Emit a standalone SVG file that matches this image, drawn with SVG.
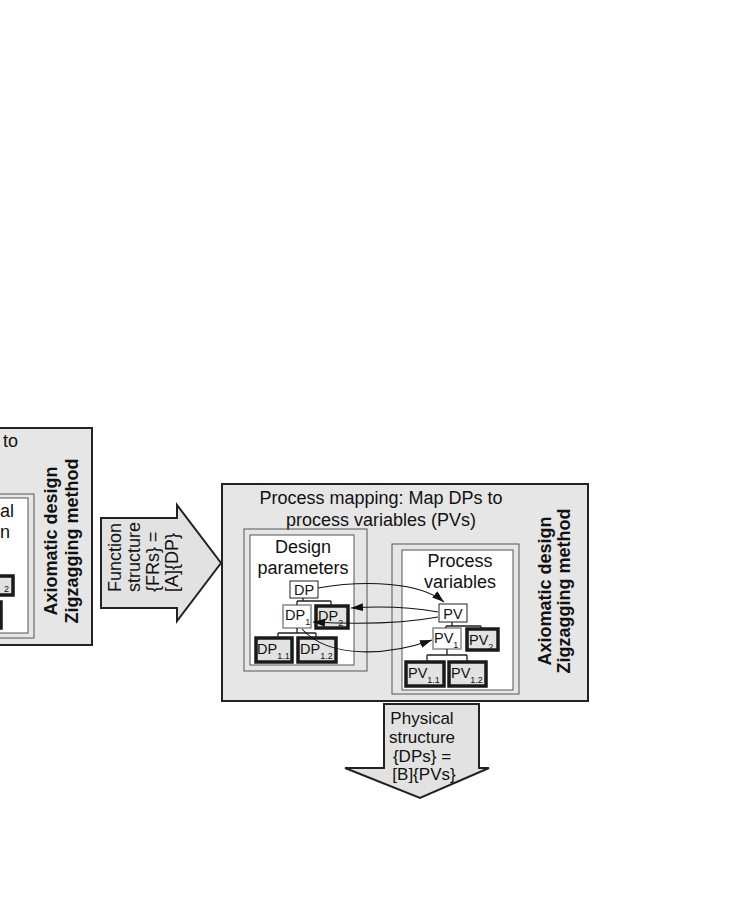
<svg xmlns="http://www.w3.org/2000/svg" width="736" height="900" viewBox="0 0 736 900">
<style>
text{font-family:"Liberation Sans",Arial,sans-serif;fill:#111}
.t18{font-size:18px}
.t17{font-size:17px}
.bold{font-size:18px;font-weight:bold}
.box{font-size:14.5px}
.sub{font-size:9px}
.panel{fill:#e6e6e6;stroke:#222;stroke-width:2}
.frame{fill:none;stroke:#555;stroke-width:1}
.white{fill:#fff;stroke:#555;stroke-width:1}
.thin{fill:#fff;stroke:#222;stroke-width:1}
.grey{fill:#fff;stroke:#888;stroke-width:1.5}
.thick{fill:#e2e2e2;stroke:#1a1a1a;stroke-width:3.5}
.tree{fill:none;stroke:#222;stroke-width:1.3}
.arrow{fill:#e2e2e2;stroke:#222;stroke-width:2;stroke-linejoin:miter}
.conn{fill:none;stroke:#111;stroke-width:1.1}
</style>
<defs>
<marker id="ah" markerUnits="userSpaceOnUse" markerWidth="13" markerHeight="9" refX="12" refY="4" orient="auto">
<path d="M0,0 L12,4 L0,8 z" fill="#111"/>
</marker>
</defs>
<rect width="736" height="900" fill="#fff"/>

<g id="left-panel">
<rect class="panel" x="-5" y="428" width="97" height="217"/>
<text class="t18" x="3" y="447">to</text>
<rect class="frame" x="-5" y="494" width="39" height="144"/>
<rect class="white" x="-5" y="498" width="33" height="135"/>
<text class="t18" x="14" y="517" text-anchor="end">al</text>
<text class="t18" x="10" y="538" text-anchor="end">n</text>
<rect class="thick" x="-20" y="576" width="33" height="19"/>
<text class="sub" x="4" y="592">2</text>
<rect class="thick" x="-40" y="602" width="41" height="26"/>
<text class="bold" transform="translate(57,541) rotate(-90)" text-anchor="middle">Axiomatic design</text>
<text class="bold" transform="translate(78,541) rotate(-90)" text-anchor="middle">Zigzagging method</text>
</g>

<g id="function-structure">
<polygon class="arrow" points="101,518 177,518 177,505 221,563 177,621 177,608 101,608"/>
<text class="t18" transform="translate(121,592) rotate(-90)">Function</text>
<text class="t18" transform="translate(140,592) rotate(-90)">structure</text>
<text class="t18" transform="translate(159,592) rotate(-90)">{FRs} =</text>
<text class="t18" transform="translate(178,592) rotate(-90)">[A]{DP}</text>
</g>

<g id="process-mapping">
<rect class="panel" x="222" y="484" width="366" height="217"/>
<text class="t18" x="381" y="504" text-anchor="middle">Process mapping: Map DPs to</text>
<text class="t18" x="381" y="526" text-anchor="middle">process variables (PVs)</text>
<text class="bold" transform="translate(551,591) rotate(-90)" text-anchor="middle">Axiomatic design</text>
<text class="bold" transform="translate(570,591) rotate(-90)" text-anchor="middle">Zigzagging method</text>
</g>

<g id="design-parameters">
<rect class="frame" x="244" y="529" width="123" height="142"/>
<rect class="white" x="250" y="535" width="104" height="130"/>
<text class="t18" x="303" y="553" text-anchor="middle">Design</text>
<text class="t18" x="303" y="574" text-anchor="middle">parameters</text>
</g>

<g id="DP">
<rect class="thin" x="290" y="581" width="28" height="17"/>
<text class="box" x="304" y="595" text-anchor="middle">DP</text>
</g>
<g id="DP1">
<rect class="grey" x="283" y="605" width="28" height="23"/>
<text class="box" x="285" y="620">DP<tspan class="sub" dy="5">1</tspan></text>
</g>
<g id="DP2">
<rect class="thick" x="316" y="606" width="32" height="22"/>
<text class="box" x="318" y="621">DP<tspan class="sub" dy="5">2</tspan></text>
</g>
<g id="DP11">
<rect class="thick" x="256" y="638" width="36" height="24"/>
<text class="box" x="257" y="654">DP<tspan class="sub" dy="5">1.1</tspan></text>
</g>
<g id="DP12">
<rect class="thick" x="298" y="638" width="38" height="24"/>
<text class="box" x="300" y="654">DP<tspan class="sub" dy="5">1.2</tspan></text>
</g>

<g id="process-variables">
<rect class="frame" x="392" y="544" width="127" height="150"/>
<rect class="white" x="402" y="550" width="111" height="140"/>
<text class="t18" x="460" y="567" text-anchor="middle">Process</text>
<text class="t18" x="460" y="588" text-anchor="middle">variables</text>
</g>

<g id="PV">
<rect class="thin" x="439" y="604" width="28" height="18"/>
<text class="box" x="453" y="619" text-anchor="middle">PV</text>
</g>
<g id="PV1">
<rect class="grey" x="433" y="628" width="28" height="21"/>
<text class="box" x="434" y="643">PV<tspan class="sub" dy="5">1</tspan></text>
</g>
<g id="PV2">
<rect class="thick" x="467" y="629" width="31" height="21"/>
<text class="box" x="469" y="645">PV<tspan class="sub" dy="5">2</tspan></text>
</g>
<g id="PV11">
<rect class="thick" x="406" y="662" width="38" height="24"/>
<text class="box" x="408" y="678">PV<tspan class="sub" dy="5">1.1</tspan></text>
</g>
<g id="PV12">
<rect class="thick" x="449" y="662" width="37" height="24"/>
<text class="box" x="451" y="678">PV<tspan class="sub" dy="5">1.2</tspan></text>
</g>

<g id="physical-structure">
<polygon class="arrow" points="384,704 479,704 479,768 489,768 420,798 345,768 384,768"/>
<text class="t17" x="422" y="724" text-anchor="middle">Physical</text>
<text class="t17" x="422" y="743" text-anchor="middle">structure</text>
<text class="t17" x="422" y="762" text-anchor="middle">{DPs} =</text>
<text class="t17" x="424" y="780" text-anchor="middle">[B]{PVs}</text>
</g>

<g id="connectors">
<path class="tree" d="M303,598 V601 M297,601 H331 M297,601 V605 M331,601 V606"/>
<path class="tree" d="M297,628 V633 M278,633 H316 M278,633 V638 M316,633 V638"/>
<path class="tree" d="M452,622 V626 M446,626 H481 M446,626 V628 M481,626 V629"/>
<path class="tree" d="M447,649 V655 M427,655 H467 M427,655 V662 M467,655 V662"/>
<path class="conn" d="M318,588 C365,580 420,582 444,602" marker-end="url(#ah)"/>
<path class="conn" d="M438,612 C410,607 380,606 351,608" marker-end="url(#ah)"/>
<path class="conn" d="M438,617 C400,624 350,624 313,622" marker-end="url(#ah)"/>
<path class="conn" d="M302,629 C330,660 390,655 432,640" marker-end="url(#ah)"/>
</g>
</svg>
